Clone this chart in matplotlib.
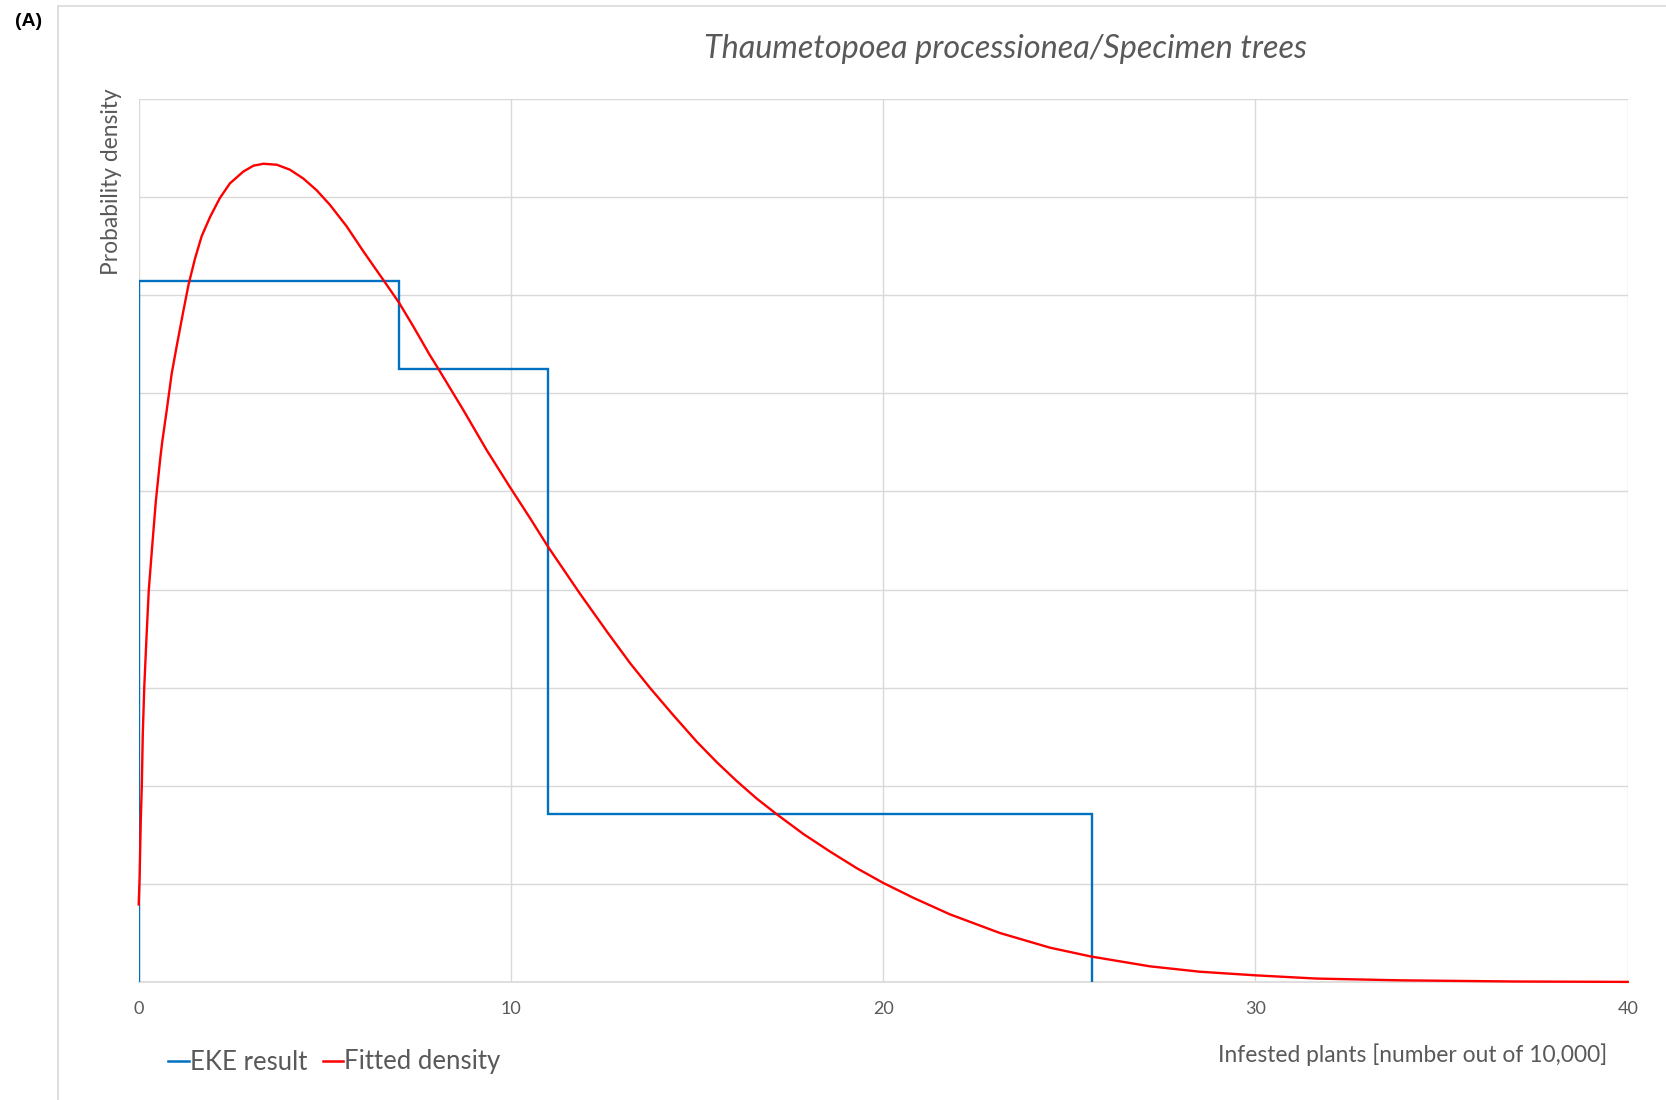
import matplotlib
matplotlib.use("Agg")
import matplotlib.pyplot as plt
from matplotlib.lines import Line2D

# ---- data ----
eke_edges = [0, 7, 11, 25.6]
eke_density = [0.0714, 0.0625, 0.0171]

fit_x = [0.0, 0.025, 0.054, 0.083, 0.11, 0.15, 0.21, 0.27, 0.36, 0.46, 0.58,
         0.63, 0.75, 0.886, 1.02, 1.20, 1.34, 1.51, 1.69, 1.92, 2.18, 2.45,
         2.81, 3.08, 3.35, 3.71, 4.06, 4.42, 4.78, 5.14, 5.59, 6.03, 6.60, 7.0,
         7.38, 7.82, 8.05, 8.72, 9.35, 9.98, 10.51, 10.99, 11.85, 12.6, 13.2,
         13.73, 14.36, 14.99, 15.53, 16.06, 16.6, 17.14, 17.85, 18.57, 19.29,
         20.0, 20.8, 21.79, 23.13, 24.48, 25.58, 27.16, 28.5, 30.0, 31.64, 33.9,
         37.0, 40.0]
fit_y = [0.0079, 0.0108, 0.0162, 0.0199, 0.0253, 0.0301, 0.0352, 0.0399, 0.0443,
         0.0490, 0.0534, 0.0550, 0.0582, 0.0620, 0.0648, 0.0684, 0.0711, 0.0737,
         0.0760, 0.0780, 0.0799, 0.0814, 0.0826, 0.0832, 0.0834, 0.0833, 0.0828,
         0.0819, 0.0807, 0.0792, 0.0770, 0.0745, 0.0714, 0.0692, 0.0668, 0.0639,
         0.0625, 0.0583, 0.0542, 0.0504, 0.0473, 0.0444, 0.0396, 0.0356, 0.0325,
         0.0300, 0.0272, 0.0245, 0.0224, 0.0205, 0.0187, 0.0171, 0.0151, 0.0133,
         0.0116, 0.0101, 0.0086, 0.0069, 0.0050, 0.0035, 0.0026, 0.0016,
         0.00105, 0.00068, 0.00035, 0.00017, 0.00005, 0.00001]

x_ticks = [0, 10, 20, 30, 40]
y_grid = [0.01 * i for i in range(10)]

title = "Thaumetopoea processionea/Specimen trees"
xlabel = "Infested plants [number out of 10,000]"
ylabel = "Probability density"
panel = "(A)"
series_names = ["EKE result", "Fitted density"]

# ---- figure ----
W, H = 1666, 1100
plt.rcParams['font.family'] = ['Lato', 'DejaVu Sans']
fig = plt.figure(figsize=(W / 100, H / 100), dpi=100)

def fx(px):
    return px / W

def fy(py):
    return 1 - py / H

ax = fig.add_axes([fx(138.7), fy(982), fx(1627.7) - fx(138.7), fy(99) - fy(982)])

grey_text = "#595959"
grid_col = "#d9d9d9"

ax.set_xlim(0, 40)
ax.set_ylim(0, 0.09)
ax.set_xticks(x_ticks)
ax.set_xticklabels([str(t) for t in x_ticks])
ax.set_yticks(y_grid)
ax.set_yticklabels([])
ax.tick_params(axis='both', length=0)
ax.tick_params(axis='x', pad=14, labelsize=13, labelcolor=grey_text)
ax.grid(True, color=grid_col, lw=1.0)
ax.set_axisbelow(True)
for s in ['top', 'right', 'left']:
    ax.spines[s].set_visible(False)
ax.spines['bottom'].set_color(grid_col)
ax.spines['bottom'].set_linewidth(1.2)

ax.stairs(eke_density, eke_edges, baseline=0, color="#0070C0", lw=1.7,
          label=series_names[0], zorder=3)
ax.plot(fit_x, fit_y, color="#FF0000", lw=1.7, label=series_names[1], zorder=4,
        clip_on=False, solid_joinstyle='round')

# legend
h1 = Line2D([], [], color="#0070C0", lw=1.8)
h2 = Line2D([], [], color="#FF0000", lw=1.8)
fig.legend([h1, h2], series_names, loc='center left',
           bbox_to_anchor=(fx(168), fy(1062)), ncol=2, frameon=False,
           fontsize=18.5, handlelength=0.8, handletextpad=0.05, columnspacing=0.6,
           labelcolor=grey_text, borderpad=0, borderaxespad=0)

# texts
fig.text(fx(1005), fy(49), title, ha='center', va='center', fontsize=23.3,
         style='italic', color=grey_text)
fig.text(fx(1607), fy(1055), xlabel, ha='right', va='center', fontsize=16.4,
         color=grey_text)
fig.text(fx(112), fy(88), ylabel, ha='center', va='top', rotation=90,
         fontsize=16.4, color=grey_text)
fig.text(fx(15), fy(21), panel, ha='left', va='center', fontsize=14,
         fontweight='bold', color='black', family=['Liberation Sans', 'DejaVu Sans'])

# outer chart border (left and top)
fig.add_artist(Line2D([fx(58), fx(58)], [fy(6), 0], transform=fig.transFigure,
                      color=grid_col, lw=1.2))
fig.add_artist(Line2D([fx(58), 1], [fy(6), fy(6)], transform=fig.transFigure,
                      color=grid_col, lw=1.2))

fig.savefig("out.png", dpi=100, facecolor="white")
